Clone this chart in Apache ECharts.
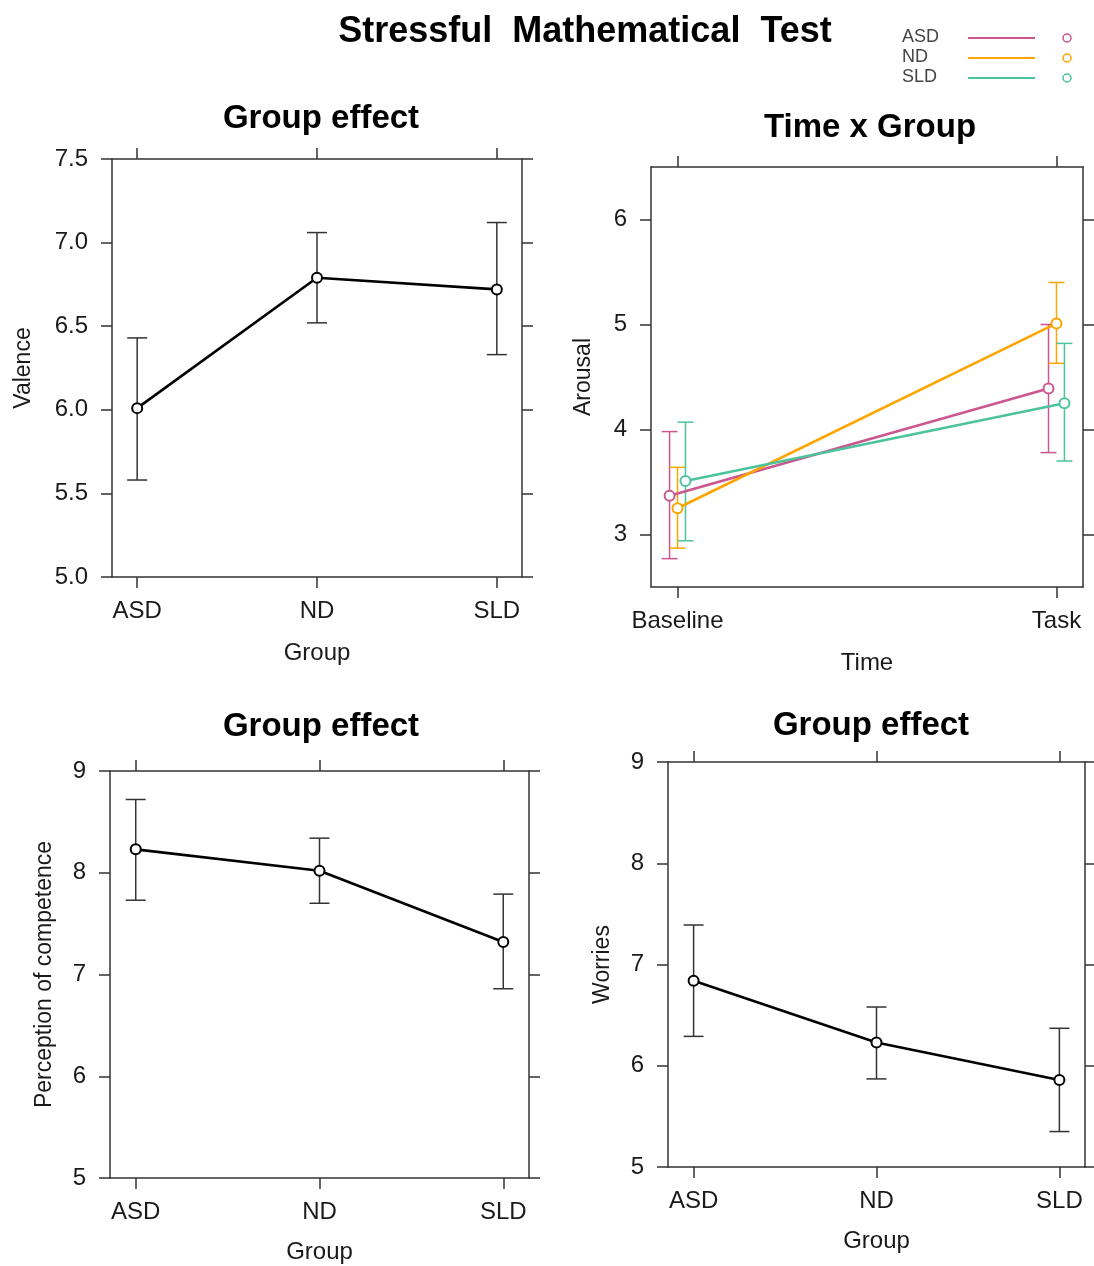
<!DOCTYPE html>
<html>
<head>
<meta charset="utf-8">
<script src="https://cdn.jsdelivr.net/npm/echarts@6/dist/echarts.min.js"></script>
<style>
  html, body { margin: 0; padding: 0; background: #fff; }
  #chart { width: 1094px; height: 1266px; }
</style>
</head>
<body>
<div id="chart"></div>
<script>
// categories
var groups = ['ASD', 'ND', 'SLD'];
var times = ['Baseline', 'Task'];
var groupColors = ['#CB5690', '#FFA500', '#4CC39A'];

// Valence (group effect)
var valenceMean = [6.01, 6.79, 6.72];
var valenceLow = [5.58, 6.52, 6.33];
var valenceHigh = [6.43, 7.06, 7.12];

// Arousal (time x group), one row per group: [Baseline, Task]
var arousalMean = [[3.37, 4.39], [3.25, 5.01], [3.51, 4.25]];
var arousalLow = [[2.77, 3.78], [2.87, 4.63], [2.94, 3.70]];
var arousalHigh = [[3.98, 5.00], [3.64, 5.40], [4.07, 4.82]];

// Perception of competence (group effect)
var competenceMean = [8.23, 8.02, 7.32];
var competenceLow = [7.73, 7.70, 6.86];
var competenceHigh = [8.72, 8.34, 7.79];

// Worries (group effect)
var worriesMean = [6.84, 6.23, 5.86];
var worriesLow = [6.29, 5.87, 5.35];
var worriesHigh = [7.39, 6.58, 6.37];

// tick labels
var valenceTicks = [5.0, 5.5, 6.0, 6.5, 7.0, 7.5];
var arousalTicks = [3, 4, 5, 6];
var scoreTicks = [5, 6, 7, 8, 9];

var font = 'Liberation Sans, Arial, sans-serif';
var axisColor = '#333';
var textColor = '#1a1a1a';

var myChart = echarts.init(document.getElementById('chart'));

var xAxes = [], yAxes = [], series = [];

// each panel gets a bottom + top x axis and a left + right y axis (lattice box)
function addXAxes(grid, cats, pad, name, gap) {
	var ticks = cats.map(function(c, i) { return i; });
	var base = {
		type: 'value',
		gridIndex: grid,
		min: -pad,
		max: cats.length - 1 + pad,
		axisLine: { onZero: false, lineStyle: { color: axisColor, width: 1.5 } },
		axisTick: { customValues: ticks, length: 11, lineStyle: { color: axisColor, width: 1.5 } },
		splitLine: { show: false }
	};
	xAxes.push(Object.assign({}, base, {
		position: 'bottom',
		name: name,
		nameLocation: 'middle',
		nameGap: gap,
		nameTextStyle: { fontFamily: font, fontSize: 24, color: textColor },
		axisLabel: {
			customValues: ticks,
			formatter: function(v) { return cats[Math.round(v)]; },
			margin: 22, fontFamily: font, fontSize: 24, color: textColor
		}
	}));
	xAxes.push(Object.assign({}, base, { position: 'top', axisLabel: { show: false } }));
}

function addYAxes(grid, min, max, ticks, fmt, name, gap) {
	var base = {
		type: 'value',
		gridIndex: grid,
		min: min,
		max: max,
		axisLine: { show: true, onZero: false, lineStyle: { color: axisColor, width: 1.5 } },
		axisTick: { show: true, customValues: ticks, length: 11, lineStyle: { color: axisColor, width: 1.5 } },
		splitLine: { show: false }
	};
	yAxes.push(Object.assign({}, base, {
		position: 'left',
		name: name,
		nameLocation: 'middle',
		nameRotate: 90,
		nameGap: gap,
		nameTextStyle: { fontFamily: font, fontSize: 23, color: textColor },
		axisLabel: {
			customValues: ticks,
			formatter: fmt,
			margin: 24, fontFamily: font, fontSize: 24, color: textColor
		}
	}));
	yAxes.push(Object.assign({}, base, { position: 'right', axisLabel: { show: false } }));
}

function errorBars(panel, xs, low, high, color, cap, width) {
	return {
		type: 'custom',
		xAxisIndex: panel * 2,
		yAxisIndex: panel * 2,
		z: 2,
		data: xs.map(function(x, i) { return [x, low[i], high[i]]; }),
		encode: { x: 0, y: [1, 2] },
		renderItem: function(params, api) {
			var lo = api.coord([api.value(0), api.value(1)]);
			var hi = api.coord([api.value(0), api.value(2)]);
			var st = { stroke: color, lineWidth: width };
			return {
				type: 'group',
				children: [
					{ type: 'line', shape: { x1: lo[0], y1: lo[1], x2: hi[0], y2: hi[1] }, style: st },
					{ type: 'line', shape: { x1: lo[0] - cap, y1: lo[1], x2: lo[0] + cap, y2: lo[1] }, style: st },
					{ type: 'line', shape: { x1: hi[0] - cap, y1: hi[1], x2: hi[0] + cap, y2: hi[1] }, style: st }
				]
			};
		}
	};
}

function meanLine(panel, xs, mean, color, name) {
	return {
		type: 'line',
		name: name,
		xAxisIndex: panel * 2,
		yAxisIndex: panel * 2,
		z: 3,
		data: xs.map(function(x, i) { return [x, mean[i]]; }),
		symbol: 'emptyCircle',
		symbolSize: 10,
		lineStyle: { color: color, width: 2.6 },
		itemStyle: { color: color, borderColor: color, borderWidth: 2.3 }
	};
}

var groupX = groups.map(function(g, i) { return i; });
var fmt1 = function(v) { return v.toFixed(1); };
var fmt0 = function(v) { return String(v); };

// panel 0: valence
addXAxes(0, groups, 0.14, 'Group', 64);
addYAxes(0, 5, 7.5, valenceTicks, fmt1, 'Valence', 77);
series.push(errorBars(0, groupX, valenceLow, valenceHigh, '#333', 10, 1.5));
series.push(meanLine(0, groupX, valenceMean, '#000', 'Valence'));

// panel 1: arousal, time x group (dodged a little per group)
var dodge = [-0.021, 0, 0.021];
addXAxes(1, times, 0.07, 'Time', 64);
addYAxes(1, 2.5, 6.5, arousalTicks, fmt0, 'Arousal', 56);
groups.forEach(function(g, k) {
	var xs = times.map(function(t, i) { return i + dodge[k]; });
	series.push(errorBars(1, xs, arousalLow[k], arousalHigh[k], groupColors[k], 8, 1.5));
});
groups.forEach(function(g, k) {
	var xs = times.map(function(t, i) { return i + dodge[k]; });
	series.push(meanLine(1, xs, arousalMean[k], groupColors[k], g));
});

// panel 2: competence
addXAxes(2, groups, 0.14, 'Group', 62);
addYAxes(2, 5, 9, scoreTicks, fmt0, 'Perception of competence', 54);
series.push(errorBars(2, groupX, competenceLow, competenceHigh, '#333', 10, 1.5));
series.push(meanLine(2, groupX, competenceMean, '#000', 'Competence'));

// panel 3: worries
addXAxes(3, groups, 0.14, 'Group', 62);
addYAxes(3, 5, 9, scoreTicks, fmt0, 'Worries', 54);
series.push(errorBars(3, groupX, worriesLow, worriesHigh, '#333', 10, 1.5));
series.push(meanLine(3, groupX, worriesMean, '#000', 'Worries'));

// legend drawn in the top right corner
var legendItems = [];
groups.forEach(function(g, k) {
	var y = 38 + k * 20;
	legendItems.push({ type: 'text', left: 902, top: y - 10, style: { text: g, font: '18px ' + font, fill: '#444' } });
	legendItems.push({ type: 'line', shape: { x1: 968, y1: y, x2: 1035, y2: y }, style: { stroke: groupColors[k], lineWidth: 2 } });
	legendItems.push({ type: 'circle', shape: { cx: 1067, cy: y, r: 4 }, style: { stroke: groupColors[k], fill: 'none', lineWidth: 1.5 } });
});

var titleStyle = { fontFamily: font, fontSize: 33, fontWeight: 'bold', color: '#000' };

myChart.setOption({
	animation: false,
	title: [
		{ text: 'Stressful  Mathematical  Test', left: 580, top: 9, textAlign: 'center', textStyle: { fontFamily: font, fontSize: 36, fontWeight: 'bold', color: '#000' } },
		{ text: 'Group effect', left: 316, top: 97, textAlign: 'center', textStyle: titleStyle },
		{ text: 'Time x Group', left: 865, top: 106, textAlign: 'center', textStyle: titleStyle },
		{ text: 'Group effect', left: 316, top: 705, textAlign: 'center', textStyle: titleStyle },
		{ text: 'Group effect', left: 866, top: 704, textAlign: 'center', textStyle: titleStyle }
	],
	grid: [
		{ left: 112, top: 159, width: 410, height: 418 },
		{ left: 651, top: 167, width: 432, height: 420 },
		{ left: 110, top: 771, width: 419, height: 407 },
		{ left: 668, top: 762, width: 417, height: 405 }
	],
	xAxis: xAxes,
	yAxis: yAxes,
	series: series,
	graphic: legendItems
});
</script>
</body>
</html>
